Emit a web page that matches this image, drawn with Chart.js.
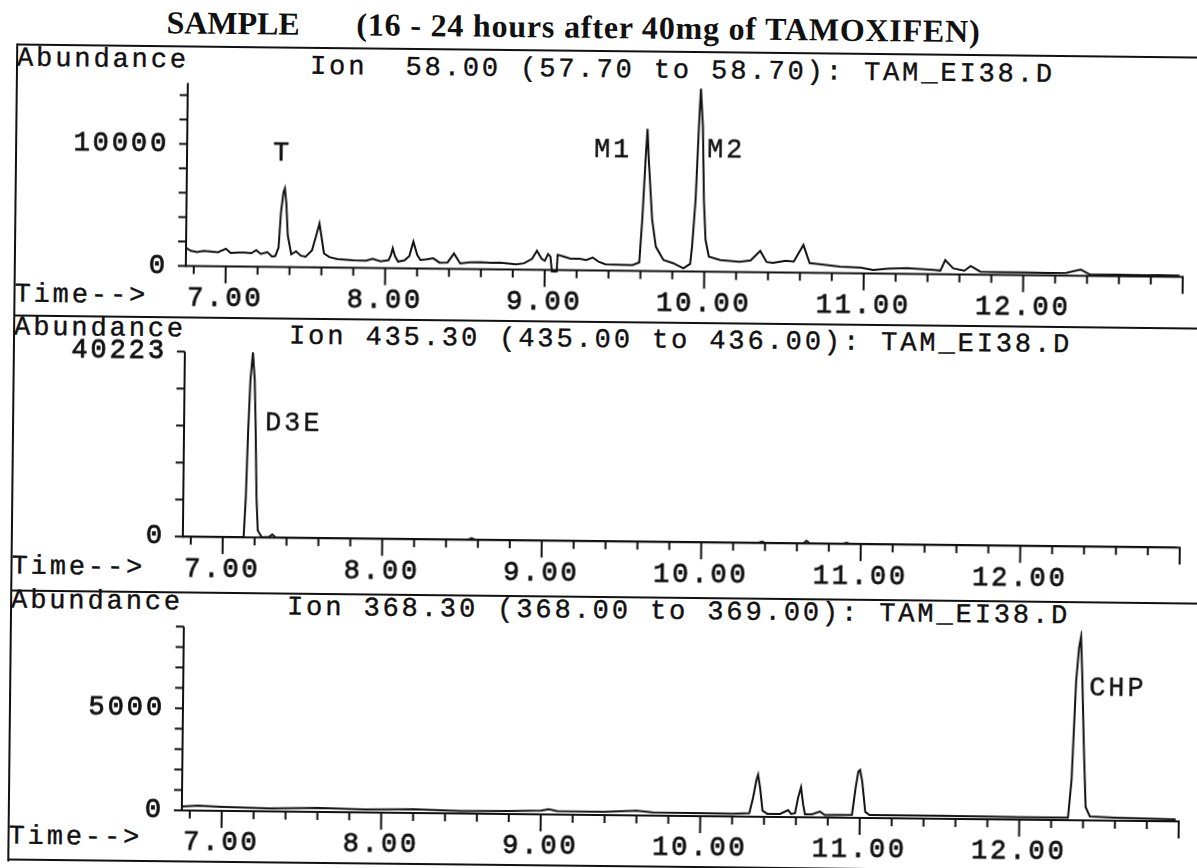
<!DOCTYPE html>
<html>
<head>
<meta charset="utf-8">
<script src="https://cdn.jsdelivr.net/npm/chart.js@4.4.1/dist/chart.umd.min.js"></script>
<style>
    html, body { margin: 0; padding: 0; background: #fff; overflow: hidden; width: 1197px; height: 868px; }
    #page { position: absolute; left: 0; top: 0; width: 1197px; height: 868px; transform: rotate(0.63deg); transform-origin: 598.5px 434px; }
    .rule { position: absolute; background: #111; }
    .mono { position: absolute; font-family: "Liberation Mono", "Courier New", monospace; font-size: 27px; line-height: 27px; letter-spacing: 2.9px; white-space: pre; color: #111; -webkit-text-stroke: 0.4px #111; }
    .title { position: absolute; font-family: "Liberation Serif", "Times New Roman", serif; font-weight: bold; font-size: 32px; line-height: 32px; white-space: pre; color: #111; }
    canvas { position: absolute; left: 0; }
</style>
</head>
<body>
<div id="page">
    <div class="title" style="left:162px; top:11px;">SAMPLE</div>
    <div class="title" style="left:352px; top:11px; letter-spacing:0.8px;">(16 - 24 hours after 40mg of TAMOXIFEN)</div>

    <div class="rule" style="left:13px; top:50px; width:1220px; height:2px;"></div>
    <div class="rule" style="left:12px; top:50px; width:2px; height:818px;"></div>
    <div class="rule" style="left:13px; top:321px; width:1220px; height:2px;"></div>
    <div class="rule" style="left:13px; top:596px; width:1220px; height:2px;"></div>
    <div class="rule" style="left:13px; top:865px; width:1220px; height:2px;"></div>

    <div class="mono" style="left:13px; top:52px;">Abundance</div>
    <div class="mono" style="left:306px; top:57px;">Ion  58.00 (57.70 to 58.70): TAM_EI38.D</div>
    <div class="mono" style="left:13px; top:288px;">Time--&gt;</div>

    <div class="mono" style="left:13px; top:321px;">Abundance</div>
    <div class="mono" style="left:288px; top:327px;">Ion 435.30 (435.00 to 436.00): TAM_EI38.D</div>
    <div class="mono" style="left:13px; top:560px;">Time--&gt;</div>

    <div class="mono" style="left:13px; top:594px;">Abundance</div>
    <div class="mono" style="left:289px; top:598px;">Ion 368.30 (368.00 to 369.00): TAM_EI38.D</div>
    <div class="mono" style="left:13px; top:830px;">Time--&gt;</div>

    <canvas id="ion58" width="1197" height="270" style="top:52px;"></canvas>
    <canvas id="ion435" width="1197" height="275" style="top:322px;"></canvas>
    <canvas id="ion368" width="1197" height="271" style="top:597px; left:2px;"></canvas>

    <div class="mono" style="left:270px; top:144px;">T</div>
    <div class="mono" style="left:591px; top:137px;">M1</div>
    <div class="mono" style="left:704px; top:136px;">M2</div>
    <div class="mono" style="left:265px; top:414px;">D3E</div>
    <div class="mono" style="left:1092px; top:670px;">CHP</div>
</div>

<script>
var ink = '#111'
var monoFont = '"Liberation Mono", "Courier New", monospace'

// retention time axis (minutes)
var xMin = 6.75
var xMax = 13.0
var xMajorTicks = [7, 8, 9, 10, 11, 12, 13]
var xTickLabels = ['7.00', '8.00', '9.00', '10.00', '11.00', '12.00', '']

// Ion 58.00
var timeIon58 = [
    6.755, 6.78, 6.82, 6.86, 6.90, 6.95, 7.00, 7.03, 7.08, 7.12,
    7.16, 7.19, 7.22, 7.26, 7.29, 7.31, 7.33, 7.343, 7.357, 7.366,
    7.376, 7.387, 7.41, 7.44, 7.47, 7.50, 7.54, 7.565, 7.585, 7.60,
    7.615, 7.65, 7.70, 7.80, 7.88, 7.92, 7.97, 8.02, 8.035, 8.046,
    8.06, 8.08, 8.12, 8.15, 8.175, 8.20, 8.22, 8.26, 8.30, 8.34,
    8.39, 8.43, 8.47, 8.53, 8.60, 8.66, 8.72, 8.82, 8.87, 8.92,
    8.95, 8.98, 9.00, 9.02, 9.035, 9.045, 9.075, 9.08, 9.12, 9.16,
    9.22, 9.26, 9.30, 9.34, 9.38, 9.45, 9.55, 9.592, 9.608, 9.625,
    9.635, 9.645, 9.67, 9.695, 9.743, 9.806, 9.869, 9.911, 9.922, 9.941,
    9.957, 9.967, 9.982, 9.993, 10.006, 10.028, 10.10, 10.22, 10.29, 10.35,
    10.39, 10.43, 10.51, 10.56, 10.62, 10.66, 10.75, 10.85, 10.98, 11.06,
    11.15, 11.23, 11.27, 11.44, 11.48, 11.51, 11.56, 11.63, 11.67, 11.73,
    11.86, 12.00, 12.15, 12.27, 12.36, 12.42, 12.59, 12.75, 12.85, 12.98
]
var abundIon58 = [
    1450, 1250, 1150, 1250, 1200, 1150, 1450, 1100, 1150, 1150,
    1100, 1350, 1050, 1200, 850, 900, 1600, 4500, 6100, 6450,
    5200, 2600, 1050, 1300, 950, 870, 1400, 2600, 3600, 2400,
    1150, 850, 700, 620, 600, 750, 550, 650, 1100, 1640,
    1000, 550, 650, 1000, 2200, 1100, 700, 750, 850, 500,
    520, 1260, 450, 550, 580, 540, 560, 430, 520, 900,
    1560, 900, 750, 1300, 1100, -120, -120, 1250, 1100, 950,
    950, 850, 1050, 700, 520, 500, 480, 700, 4200, 9200,
    11650, 9100, 4200, 2000, 930, 660, 260, 620, 2050, 5900,
    11900, 15000, 11900, 5900, 2600, 1240, 960, 850, 960, 1750,
    850, 780, 960, 900, 2280, 790, 680, 540, 470, 290,
    400, 450, 475, 340, 300, 1170, 500, 310, 700, 250,
    220, 230, 210, 220, 500, 100, 120, 100, 130, 100
]
var yMaxIon58 = 15000
var yTicksIon58 = [0, 2000, 4000, 6000, 8000, 10000, 12000, 14000]
var yLabelsIon58 = { 0: '0', 10000: '10000' }

// Ion 435.30
var timeIon435 = [
    6.755, 7.00, 7.131, 7.142, 7.152, 7.163, 7.177, 7.190, 7.198, 7.209,
    7.219, 7.245, 7.29, 7.31, 7.33, 7.40, 8.54, 8.56, 8.58, 10.36,
    10.38, 10.40, 10.64, 10.66, 10.68, 10.89, 10.91, 10.93, 12.98
]
var abundIon435 = [
    60, 60, 60, 8700, 23000, 34200, 40223, 34200, 25200, 8700,
    1500, 60, 150, 700, 100, 60, 60, 350, 60, 60,
    300, 60, 60, 600, 60, 60, 250, 60, 40
]
var yMaxIon435 = 40223
var yTicksIon435 = [0, 8044.6, 16089.2, 24133.8, 32178.4, 40223]
var yLabelsIon435 = { 0: '0', 40223: '40223' }

// Ion 368.30
var timeIon368 = [
    6.755, 6.85, 7.00, 7.30, 7.60, 7.90, 8.20, 8.50, 8.80, 9.00,
    9.05, 9.10, 9.40, 9.60, 9.70, 10.00, 10.20, 10.307, 10.33, 10.35,
    10.36, 10.374, 10.39, 10.42, 10.50, 10.55, 10.57, 10.594, 10.612, 10.63,
    10.644, 10.656, 10.70, 10.75, 10.78, 10.951, 10.972, 10.988, 10.999, 11.013,
    11.034, 11.06, 11.50, 11.80, 12.00, 12.305, 12.325, 12.347, 12.363, 12.375,
    12.385, 12.40, 12.415, 12.442, 12.60, 12.80, 12.98
]
var abundIon368 = [
    200, 250, 200, 150, 200, 150, 180, 120, 150, 180,
    260, 170, 160, 230, 160, 150, 140, 170, 930, 1800,
    2060, 1380, 300, 150, 150, 340, 150, 200, 950, 1470,
    630, 150, 150, 290, 120, 150, 1460, 2270, 2350, 1790,
    300, 150, 150, 130, 120, 120, 1950, 6800, 8430, 9000,
    7140, 3560, 650, 200, 150, 120, 100
]
var yMaxIon368 = 9000
var yTicksIon368 = [0, 1000, 2000, 3000, 4000, 5000, 6000, 7000, 8000, 9000]
var yLabelsIon368 = { 0: '0', 5000: '5000' }

// minor time ticks every 0.2 min
var xMinorTicks = []
for (var i = 34; i <= 65; i++) {
    xMinorTicks.push(i / 5)
}

function linha(ctx, x1, y1, x2, y2) {
    ctx.beginPath()
    ctx.moveTo(x1, y1)
    ctx.lineTo(x2, y2)
    ctx.stroke()
}

// axis lines and tick marks, drawn from the chart scales
var eixosPlugin = {
    id: 'eixos',
    beforeDraw: function (chart) {
        chart.ctx.letterSpacing = '2.9px'
    },
    afterDraw: function (chart, args, opts) {
        var ctx = chart.ctx
        var xs = chart.scales.x
        var ys = chart.scales.y
        var zero = ys.getPixelForValue(0)
        var left = xs.getPixelForValue(xMin)
        var right = xs.getPixelForValue(xMax)
        ctx.save()
        ctx.strokeStyle = ink
        ctx.lineWidth = 2
        linha(ctx, left, ys.getPixelForValue(opts.yTop), left, zero + 1)
        linha(ctx, left, zero, right + 1, zero)
        opts.yTicks.forEach(function (v) {
            var p = ys.getPixelForValue(v)
            linha(ctx, left - 8, p, left, p)
        })
        xMinorTicks.forEach(function (t) {
            var p = xs.getPixelForValue(t)
            var major = Math.abs(t - Math.round(t)) < 1e-6
            linha(ctx, p, zero, p, zero + (major ? 17 : 8))
        })
        ctx.restore()
    }
}

function criaPainel(id, tempos, valores, yMax, yTicks, yLabels, padTop, xHeight) {
    var pontos = []
    for (var i = 0; i < tempos.length; i++) {
        pontos.push({ x: tempos[i], y: valores[i] })
    }
    return new Chart(document.getElementById(id), {
        type: 'line',
        data: {
            datasets: [{
                data: pontos,
                borderColor: ink,
                borderWidth: 2,
                pointRadius: 0,
                tension: 0,
                fill: false,
                clip: 6
            }]
        },
        options: {
            responsive: false,
            animation: false,
            events: [],
            layout: { padding: { top: padTop, right: 16, left: 0, bottom: 0 } },
            plugins: {
                legend: { display: false },
                tooltip: { enabled: false },
                eixos: { yTicks: yTicks, yTop: yMax }
            },
            scales: {
                x: {
                    type: 'linear',
                    min: xMin,
                    max: xMax,
                    grid: { display: false, drawTicks: false },
                    border: { display: false },
                    afterBuildTicks: function (s) {
                        s.ticks = xMajorTicks.map(function (v) { return { value: v } })
                    },
                    afterFit: function (s) { s.height = xHeight },
                    ticks: {
                        autoSkip: false,
                        maxRotation: 0,
                        padding: 16,
                        color: ink,
                        textStrokeColor: ink,
                        textStrokeWidth: 0.8,
                        font: { family: monoFont, size: 27 },
                        callback: function (v, idx) { return xTickLabels[idx] }
                    }
                },
                y: {
                    min: 0,
                    max: yMax,
                    grid: { display: false, drawTicks: false },
                    border: { display: false },
                    afterBuildTicks: function (s) {
                        s.ticks = yTicks.map(function (v) { return { value: v } })
                    },
                    afterFit: function (s) { s.width = 184 },
                    ticks: {
                        autoSkip: false,
                        padding: 18,
                        color: ink,
                        textStrokeColor: ink,
                        textStrokeWidth: 0.8,
                        font: { family: monoFont, size: 27 },
                        callback: function (v) { return yLabels[v] || '' }
                    }
                }
            }
        },
        plugins: [eixosPlugin]
    })
}

window.onload = function () {
    criaPainel('ion58', timeIon58, abundIon58, yMaxIon58, yTicksIon58, yLabelsIon58, 35.5, 51.5)
    criaPainel('ion435', timeIon435, abundIon435, yMaxIon435, yTicksIon435, yLabelsIon435, 32.5, 55.8)
    criaPainel('ion368', timeIon368, abundIon368, yMaxIon368, yTicksIon368, yLabelsIon368, 33, 53)
}
</script>
</body>
</html>
